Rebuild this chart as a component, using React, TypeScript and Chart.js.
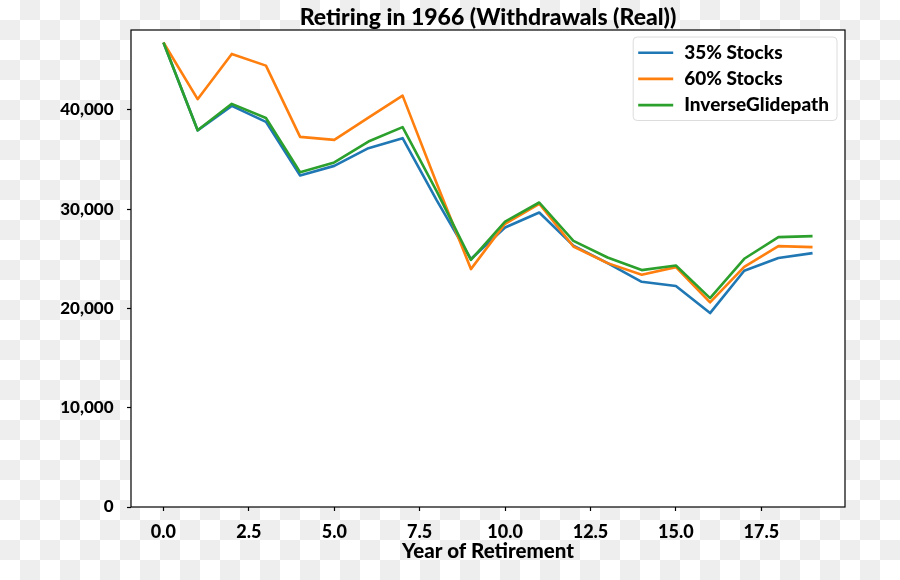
import React, { useEffect, useRef } from 'react';
import { Chart, registerables } from 'chart.js';

Chart.register(...registerables);

const years = [0, 1, 2, 3, 4, 5, 6, 7, 8, 9, 10, 11, 12, 13, 14, 15, 16, 17, 18, 19];
const stocks35 = [46800, 37950, 40420, 38800, 33400, 34370, 36150, 37160, 30900, 24980, 28160, 29670, 26340, 24570, 22690, 22260, 19540, 23800, 25080, 25580];
const stocks60 = [46800, 41090, 45650, 44470, 37290, 36990, 39240, 41450, 32600, 23970, 28530, 30550, 26250, 24570, 23400, 24170, 20610, 24200, 26280, 26180];
const inverseGlidepath = [46800, 37950, 40620, 39200, 33740, 34720, 36820, 38270, 31800, 24900, 28760, 30680, 26820, 25140, 23870, 24330, 21050, 25010, 27190, 27290];
const seriesLabels = ['35% Stocks', '60% Stocks', 'InverseGlidepath'];
const seriesColors = ['#1f77b4', '#ff7f0e', '#2ca02c'];
const xTicks = [0, 2.5, 5, 7.5, 10, 12.5, 15, 17.5];
const yTicks = [0, 10000, 20000, 30000, 40000];
const titleText = 'Retiring in 1966 (Withdrawals (Real))';
const xAxisTitle = 'Year of Retirement';

const FONT = 'Lato';
const WEIGHT = 900;

const backgroundPlugin = {
  id: 'checkerBackground',
  beforeDraw(chart: any) {
    const { ctx, width, height, chartArea } = chart;
    ctx.save();
    ctx.fillStyle = '#ffffff';
    ctx.fillRect(0, 0, width, height);
    ctx.fillStyle = '#eeeeee';
    const s = 20;
    for (let r = 0; r * s < height; r++) {
      for (let c = 0; c * s < width; c++) {
        if ((r + c) % 2 === 1) ctx.fillRect(c * s, r * s, s, s);
      }
    }
    ctx.fillStyle = '#ffffff';
    ctx.fillRect(chartArea.left, chartArea.top, chartArea.right - chartArea.left, chartArea.bottom - chartArea.top);
    ctx.restore();
  },
};

function roundRectPath(ctx: CanvasRenderingContext2D, x: number, y: number, w: number, h: number, r: number) {
  ctx.beginPath();
  ctx.moveTo(x + r, y);
  ctx.lineTo(x + w - r, y);
  ctx.arcTo(x + w, y, x + w, y + r, r);
  ctx.lineTo(x + w, y + h - r);
  ctx.arcTo(x + w, y + h, x + w - r, y + h, r);
  ctx.lineTo(x + r, y + h);
  ctx.arcTo(x, y + h, x, y + h - r, r);
  ctx.lineTo(x, y + r);
  ctx.arcTo(x, y, x + r, y, r);
  ctx.closePath();
}

const framePlugin = {
  id: 'frameAndLegend',
  afterDatasetsDraw(chart: any) {
    const { ctx, chartArea } = chart;
    ctx.save();
    ctx.strokeStyle = '#000000';
    ctx.lineWidth = 1.2;
    ctx.strokeRect(chartArea.left, chartArea.top, chartArea.right - chartArea.left, chartArea.bottom - chartArea.top);

    ctx.font = `${WEIGHT} 19px ${FONT}`;
    const datasets = chart.data.datasets;
    const maxW = Math.max(...datasets.map((d: any) => ctx.measureText(d.label).width));
    const padL = 5, lineLen = 35, gap = 11, padR = 8;
    const w = padL + lineLen + gap + maxW + padR;
    const h = 83.5;
    const x = chartArea.right - 8 - w;
    const y = chartArea.top + 7;
    roundRectPath(ctx, x, y, w, h, 4);
    ctx.fillStyle = 'rgba(255,255,255,0.8)';
    ctx.fill();
    ctx.strokeStyle = '#dcdcdc';
    ctx.lineWidth = 1;
    ctx.stroke();
    datasets.forEach((d: any, i: number) => {
      const ry = y + 15.7 + i * 26.2;
      ctx.strokeStyle = d.borderColor;
      ctx.lineWidth = 2.6;
      ctx.beginPath();
      ctx.moveTo(x + padL, ry);
      ctx.lineTo(x + padL + lineLen, ry);
      ctx.stroke();
      ctx.fillStyle = '#000000';
      ctx.textBaseline = 'middle';
      ctx.textAlign = 'left';
      ctx.fillText(d.label, x + padL + lineLen + gap, ry);
    });
    ctx.restore();
  },
};

export default function App() {
  const canvasRef = useRef<HTMLCanvasElement | null>(null);

  useEffect(() => {
    document.body.style.margin = '0';
    const canvas = canvasRef.current;
    if (!canvas) return;
    Chart.defaults.color = '#000000';
    const series = [stocks35, stocks60, inverseGlidepath];
    const chart = new Chart(canvas, {
      type: 'line',
      data: {
        datasets: series.map((vals, i) => ({
          label: seriesLabels[i],
          data: years.map((yr, j) => ({ x: yr, y: vals[j] })),
          borderColor: seriesColors[i],
          backgroundColor: seriesColors[i],
          borderWidth: 2.6,
          pointRadius: 0,
          tension: 0,
          fill: false,
          borderJoinStyle: 'round',
          order: 3 - i,
        })),
      },
      options: {
        responsive: false,
        animation: false,
        devicePixelRatio: 1,
        layout: { padding: { left: 0, right: 55, top: 0, bottom: 0 } },
        plugins: {
          legend: { display: false },
          tooltip: { enabled: false },
          title: {
            display: true,
            text: titleText,
            fullSize: false,
            color: '#000000',
            font: { family: FONT, size: 23, weight: WEIGHT, lineHeight: 1.1 },
            padding: { top: 4.7, bottom: 0 },
          },
        },
        scales: {
          x: {
            type: 'linear',
            min: -0.95,
            max: 19.95,
            afterBuildTicks: (scale: any) => {
              scale.ticks = xTicks.map((v) => ({ value: v }));
            },
            afterFit: (scale: any) => {
              scale.height = 73;
            },
            border: { display: false },
            grid: {
              drawOnChartArea: false,
              drawTicks: true,
              tickLength: 4,
              tickColor: '#000000',
              tickWidth: 1.2,
            },
            ticks: {
              padding: 10,
              maxRotation: 0,
              autoSkip: false,
              color: '#000000',
              font: { family: FONT, size: 18, weight: WEIGHT },
              callback: (v: any) => Number(v).toFixed(1),
            },
            title: {
              display: true,
              text: xAxisTitle,
              color: '#000000',
              font: { family: FONT, size: 20.5, weight: WEIGHT, lineHeight: 1.2 },
              padding: { top: 0, bottom: 16 },
            },
          },
          y: {
            type: 'linear',
            min: 0,
            max: 48060,
            afterBuildTicks: (scale: any) => {
              scale.ticks = yTicks.map((v) => ({ value: v }));
            },
            afterFit: (scale: any) => {
              scale.width = 131;
            },
            border: { display: false },
            grid: {
              drawOnChartArea: false,
              drawTicks: true,
              tickLength: 4,
              tickColor: '#000000',
              tickWidth: 1.2,
            },
            ticks: {
              padding: 13.5,
              autoSkip: false,
              color: '#000000',
              font: { family: FONT, size: 17, weight: WEIGHT },
              callback: (v: any) => Number(v).toLocaleString('en-US'),
            },
          },
        },
      },
      plugins: [backgroundPlugin, framePlugin],
    });
    return () => chart.destroy();
  }, []);

  return (
    <div style={{ width: 900, height: 580 }}>
      <canvas ref={canvasRef} width={900} height={580} style={{ display: 'block' }} />
    </div>
  );
}
